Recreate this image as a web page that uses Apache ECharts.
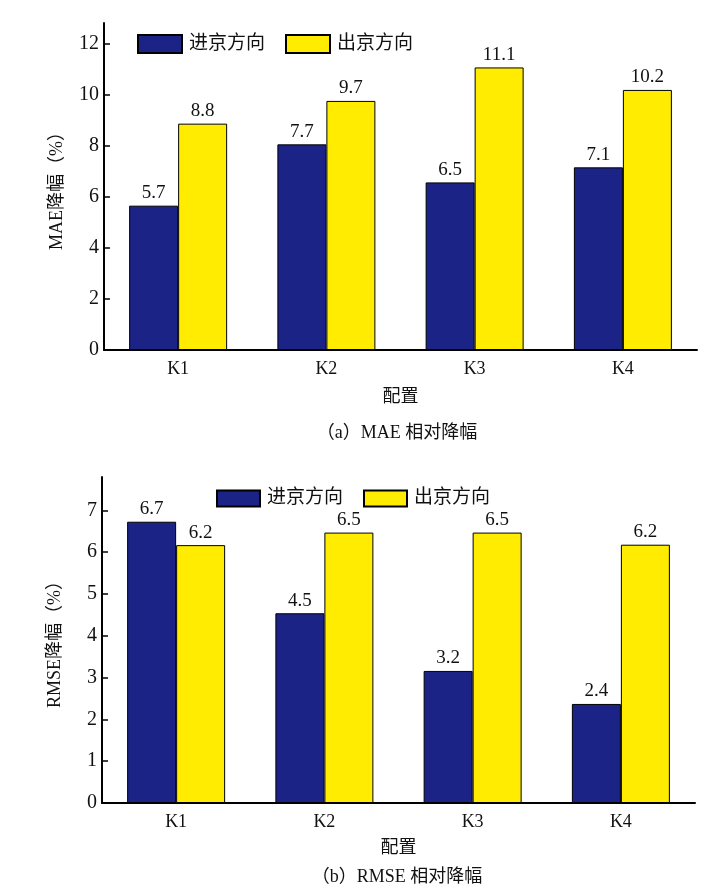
<!DOCTYPE html>
<html>
<head>
<meta charset="utf-8">
<script src="https://cdn.jsdelivr.net/npm/echarts@6/dist/echarts.min.js"></script>
<style>
html,body{margin:0;padding:0;background:#fff;}
#c{width:716px;height:895px;}
</style>
</head>
<body>
<div id="c"></div>
<script>
// ---- data ----
const categories = ['K1', 'K2', 'K3', 'K4'];
const seriesNames = ['进京方向', '出京方向'];
// (a) MAE reduction (%)
const maeIn = [5.65, 8.05, 6.56, 7.15];
const maeOut = [8.86, 9.75, 11.06, 10.18];
const maeInLabels = ['5.7', '7.7', '6.5', '7.1'];
const maeOutLabels = ['8.8', '9.7', '11.1', '10.2'];
const maeTicks = [0, 2, 4, 6, 8, 10, 12];
// (b) RMSE reduction (%)
const rmseIn = [6.73, 4.54, 3.16, 2.37];
const rmseOut = [6.17, 6.47, 6.47, 6.18];
const rmseInLabels = ['6.7', '4.5', '3.2', '2.4'];
const rmseOutLabels = ['6.2', '6.5', '6.5', '6.2'];
const rmseTicks = [0, 1, 2, 3, 4, 5, 6, 7];
// text
const xName = '配置';
const yNameA = 'MAE降幅（%）';
const yNameB = 'RMSE降幅（%）';
const captionA = '（a）MAE 相对降幅';
const captionB = '（b）RMSE 相对降幅';

const FONT = "'Liberation Serif', 'Noto Sans CJK SC', serif";
const BLUE = '#1c2386';
const YELLOW = '#ffec00';

const chart = echarts.init(document.getElementById('c'), null, {renderer: 'canvas'});

function xAxis(gi, gap) {
  return {
    type: 'category', gridIndex: gi, data: categories,
    axisLine: {lineStyle: {color: '#000', width: 2}},
    axisTick: {show: false},
    axisLabel: {color: '#111', fontSize: 18, fontFamily: FONT, margin: 10},
    name: xName, nameLocation: 'middle', nameGap: gap,
    nameTextStyle: {color: '#111', fontSize: 18, fontFamily: FONT}
  };
}
function yAxis(gi, max, interval, ticks, name) {
  return {
    type: 'value', gridIndex: gi, min: 0, max: max, interval: interval,
    splitLine: {show: false},
    axisLine: {show: true, lineStyle: {color: '#000', width: 2}},
    axisTick: {show: true, inside: true, length: 6, lineStyle: {color: '#000', width: 1.5}, customValues: ticks},
    axisLabel: {color: '#111', fontSize: 20, fontFamily: FONT, margin: 5, customValues: ticks},
    name: name, nameLocation: 'middle', nameGap: 38,
    nameTextStyle: {color: '#111', fontSize: 18, fontFamily: FONT}
  };
}
function bar(name, data, labels, color, gi) {
  return {
    type: 'bar', name: name, xAxisIndex: gi, yAxisIndex: gi, data: data,
    barWidth: 49, barGap: '0%',
    itemStyle: {color: color, borderColor: '#000', borderWidth: 1},
    label: {
      show: true, position: 'top', distance: 3, color: '#111',
      fontSize: 19, fontFamily: FONT,
      formatter: p => labels[p.dataIndex]
    }
  };
}
function legend(left, top, w, h) {
  return {
    left: left, top: top, orient: 'horizontal',
    data: seriesNames, itemWidth: w, itemHeight: h, itemGap: 20,
    icon: 'rect', padding: 0,
    textStyle: {color: '#111', fontSize: 19, fontFamily: FONT, padding: [0, 0, 0, 2]}
  };
}

chart.setOption({
  animation: false,
  backgroundColor: '#fff',
  grid: [
    {left: 104, right: 19, top: 23, height: 327},
    {left: 102, right: 21, top: 477, height: 326}
  ],
  legend: [legend(137, 34, 44, 18), legend(216, 489, 43, 16)],
  xAxis: [xAxis(0, 38), xAxis(1, 36)],
  yAxis: [
    yAxis(0, 12.8, 2, maeTicks, yNameA),
    yAxis(1, 7.8, 1, rmseTicks, yNameB)
  ],
  series: [
    bar(seriesNames[0], maeIn, maeInLabels, BLUE, 0),
    bar(seriesNames[1], maeOut, maeOutLabels, YELLOW, 0),
    bar(seriesNames[0], rmseIn, rmseInLabels, BLUE, 1),
    bar(seriesNames[1], rmseOut, rmseOutLabels, YELLOW, 1)
  ],
  graphic: [
    {type: 'text', x: 397, y: 433, style: {text: captionA, fill: '#111', font: '18px ' + FONT, textAlign: 'center', textVerticalAlign: 'middle'}},
    {type: 'text', x: 397, y: 877, style: {text: captionB, fill: '#111', font: '18px ' + FONT, textAlign: 'center', textVerticalAlign: 'middle'}}
  ]
});
</script>
</body>
</html>
